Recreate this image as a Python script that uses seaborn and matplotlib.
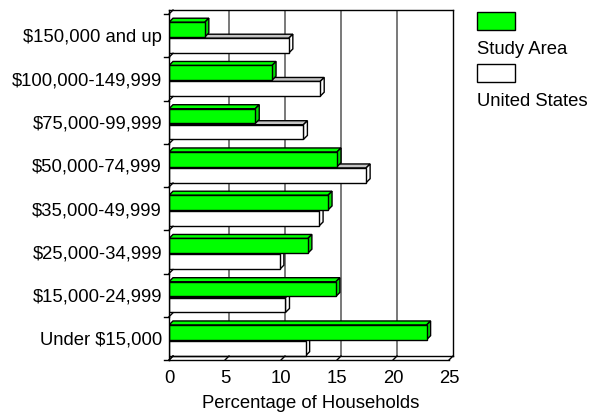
import matplotlib
matplotlib.use("Agg")
import matplotlib.pyplot as plt
from matplotlib.patches import Polygon, Rectangle
import pandas as pd
import seaborn as sns

plt.rcParams["font.family"] = ["Liberation Sans", "DejaVu Sans"]
plt.rcParams["text.parse_math"] = False

categories = ["$150,000 and up", "$100,000-149,999", "$75,000-99,999",
              "$50,000-74,999", "$35,000-49,999", "$25,000-34,999",
              "$15,000-24,999", "Under $15,000"]
study_area = [3.2, 9.2, 7.7, 15.0, 14.2, 12.4, 14.9, 23.0]
united_states = [10.7, 13.5, 12.0, 17.6, 13.4, 9.9, 10.4, 12.2]
series = ["Study Area", "United States"]
x_ticks = [0, 5, 10, 15, 20, 25]

GREEN = "#00ff00"
FS = 13.3
W, H = 591, 413
fig = plt.figure(figsize=(W / 100, H / 100), dpi=100)
ax = fig.add_axes([169 / W, 1 - 360 / H, 284 / W, 350 / H])

df = pd.DataFrame({
    "category": categories * 2,
    "value": study_area + united_states,
    "series": [series[0]] * len(categories) + [series[1]] * len(categories),
})

sns.barplot(data=df, x="value", y="category", hue="series", orient="h",
            palette=[GREEN, "white"], saturation=1, width=0.74, gap=0.08,
            edgecolor="black", linewidth=1.0, legend=False, ax=ax,
            order=categories, hue_order=series)

# 3-D depth of the chart box, in data units
xmax = 25
dx = 4 / 11.2
dy = 4 / 43.25
n = len(categories)
ytop = -0.5 - dy
ybot = n - 0.5

ax.set_xlim(0, xmax + dx)
ax.set_ylim(ybot, ytop)
for s in ax.spines.values():
    s.set_visible(False)
ax.set_facecolor("none")

# extruded faces for each bar
for p in list(ax.patches):
    p.set_y(p.get_y() + 0.045)
    x0, y0 = p.get_x(), p.get_y()
    x1, y1 = x0 + p.get_width(), y0 + p.get_height()
    fc = p.get_facecolor()
    is_green = fc[0] < 0.5 and fc[1] > 0.5
    top_c = GREEN if is_green else "#c4c4c4"
    side_c = "#00e000" if is_green else "white"
    z = 3 if is_green else 2
    p.set_zorder(z)
    top = Polygon([(x0, y0), (x0 + dx, y0 - dy), (x1 + dx, y0 - dy), (x1, y0)],
                  closed=True, facecolor=top_c, edgecolor="black", lw=1.0,
                  zorder=z - 0.5)
    side = Polygon([(x1, y0), (x1 + dx, y0 - dy), (x1 + dx, y1 - dy), (x1, y1)],
                   closed=True, facecolor=side_c, edgecolor="black", lw=1.0,
                   zorder=z - 0.5)
    ax.add_patch(top)
    ax.add_patch(side)

# back wall grid lines
for v in x_ticks[1:-1]:
    ax.plot([v + dx, v + dx], [ytop, ybot - dy], color="#6e6e6e", lw=1.3, zorder=0.5)

# box outline
line_kw = dict(color="black", lw=1.0, zorder=4, clip_on=False)
ax.plot([0, xmax + dx], [ytop, ytop], **line_kw)
ax.plot([0, 0], [ytop, ybot], **line_kw)
ax.plot([xmax + dx, xmax + dx], [ytop, ybot - dy], **line_kw)
ax.plot([dx, xmax + dx], [ybot - dy, ybot - dy], **line_kw)
ax.plot([0, xmax], [ybot, ybot], **line_kw)
for v in x_ticks:
    ax.plot([v, v + dx], [ybot, ybot - dy], **line_kw)

# category separators on the left wall
stub = 5 / 11.2
for k in range(n + 1):
    b = k - 0.5
    ax.plot([-stub, 0], [b, b], **line_kw)
    ax.plot([0, dx], [b, b - dy], **line_kw)

ax.set_xticks(x_ticks)
ax.set_xticklabels([str(v) for v in x_ticks], fontsize=FS)
ax.set_yticks(range(n))
ax.set_yticklabels(categories, fontsize=FS)
ax.tick_params(axis="x", length=0, pad=7)
ax.tick_params(axis="y", length=0, pad=5)
ax.set_xlabel("Percentage of Households", fontsize=FS, labelpad=6)
ax.set_ylabel("")

# legend
leg_x = 477
for (name, color), (ry, ty) in zip(zip(series, [GREEN, "white"]),
                                    [(12, 50), (64, 101)]):
    fig.add_artist(Rectangle((leg_x / W, 1 - (ry + 18) / H), 38 / W, 18 / H,
                             transform=fig.transFigure, facecolor=color,
                             edgecolor="black", lw=1.0))
    fig.text(leg_x / W, 1 - ty / H, name, fontsize=FS, va="center", ha="left")

fig.savefig("out.png", dpi=100)
